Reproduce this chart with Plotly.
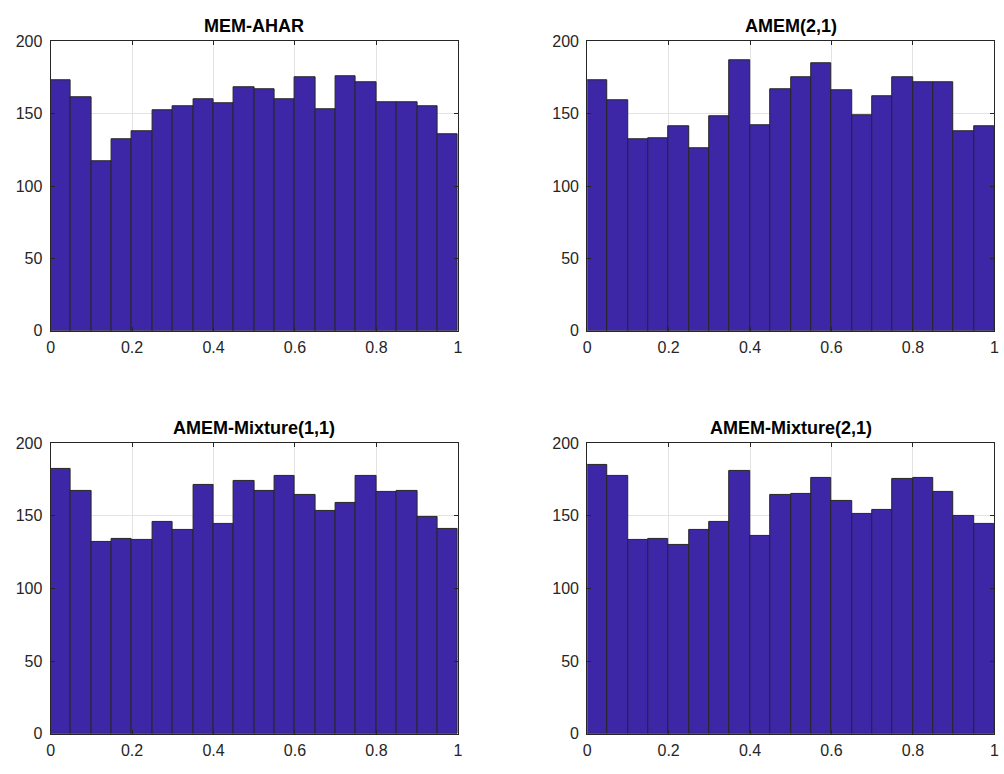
import plotly.graph_objects as go

bin_edges = [i * 0.05 for i in range(21)]
bin_centers = [round((bin_edges[i] + bin_edges[i + 1]) / 2, 4) for i in range(20)]

titles = ["MEM-AHAR", "AMEM(2,1)", "AMEM-Mixture(1,1)", "AMEM-Mixture(2,1)"]

counts_mem_ahar = [173, 161, 117, 132, 138, 152, 155, 160, 157, 168,
                   167, 160, 175, 153, 176, 172, 158, 158, 155, 136]
counts_amem_21 = [173, 159, 132, 133, 141, 126, 148, 187, 142, 167,
                  175, 185, 166, 149, 162, 175, 172, 172, 138, 141]
counts_mix_11 = [182, 167, 132, 134, 133, 146, 140, 171, 144, 174,
                 167, 177, 164, 153, 159, 177, 166, 167, 149, 141]
counts_mix_21 = [185, 177, 133, 134, 130, 140, 146, 181, 136, 164,
                 165, 176, 160, 151, 154, 175, 176, 166, 150, 144]

x_ticks = [0, 0.2, 0.4, 0.6, 0.8, 1]
x_ticklabels = ["0", "0.2", "0.4", "0.6", "0.8", "1"]
y_ticks = [0, 50, 100, 150, 200]
y_ticklabels = ["0", "50", "100", "150", "200"]

all_counts = [counts_mem_ahar, counts_amem_21, counts_mix_11, counts_mix_21]

W, H = 1004, 774
# plot-area pixel boxes (left, right, top, bottom)
boxes = [(47, 458, 34, 330), (588.5, 999.3, 34, 330),
         (47, 458, 444.7, 742), (588.5, 999.3, 444.7, 742)]

FONT = "Liberation Sans, Arial, Helvetica, sans-serif"

fig = go.Figure()
layout = dict(
    width=W, height=H, margin=dict(l=0, r=0, t=0, b=0),
    paper_bgcolor="white", plot_bgcolor="white",
    showlegend=False, bargap=0,
    font=dict(family=FONT, size=16, color="#262626"),
)
annotations = []
for i, (cnts, title, box) in enumerate(zip(all_counts, titles, boxes)):
    n = "" if i == 0 else str(i + 1)
    fig.add_trace(go.Bar(
        x=bin_centers, y=cnts, width=0.05,
        marker=dict(color="#3d27a6", line=dict(color="#262626", width=1)),
        xaxis="x" + n, yaxis="y" + n,
    ))
    l, r, t, b = box
    common = dict(
        showline=True, linecolor="#262626", linewidth=1, mirror="ticks",
        ticks="inside", ticklen=4, tickcolor="#262626",
        showgrid=True, gridcolor="#e3e3e3", gridwidth=1, zeroline=False,
        tickfont=dict(size=16, color="#262626", family=FONT),
    )
    layout["xaxis" + n] = dict(
        domain=[l / W, r / W], anchor="y" + n, range=[0, 1],
        tickvals=x_ticks, ticktext=x_ticklabels, ticklabelstandoff=2, **common)
    layout["yaxis" + n] = dict(
        domain=[1 - b / H, 1 - t / H], anchor="x" + n, range=[0, 200],
        tickvals=y_ticks, ticktext=y_ticklabels, ticklabelstandoff=4, **common)
    annotations.append(dict(
        text="<b>" + title + "</b>", x=(l + r) / 2 / W, y=1 - (t - 3) / H,
        xref="paper", yref="paper", xanchor="center", yanchor="bottom",
        showarrow=False, font=dict(size=18, color="black", family=FONT)))
layout["annotations"] = annotations
fig.update_layout(**layout)
fig.write_html("out.html")
